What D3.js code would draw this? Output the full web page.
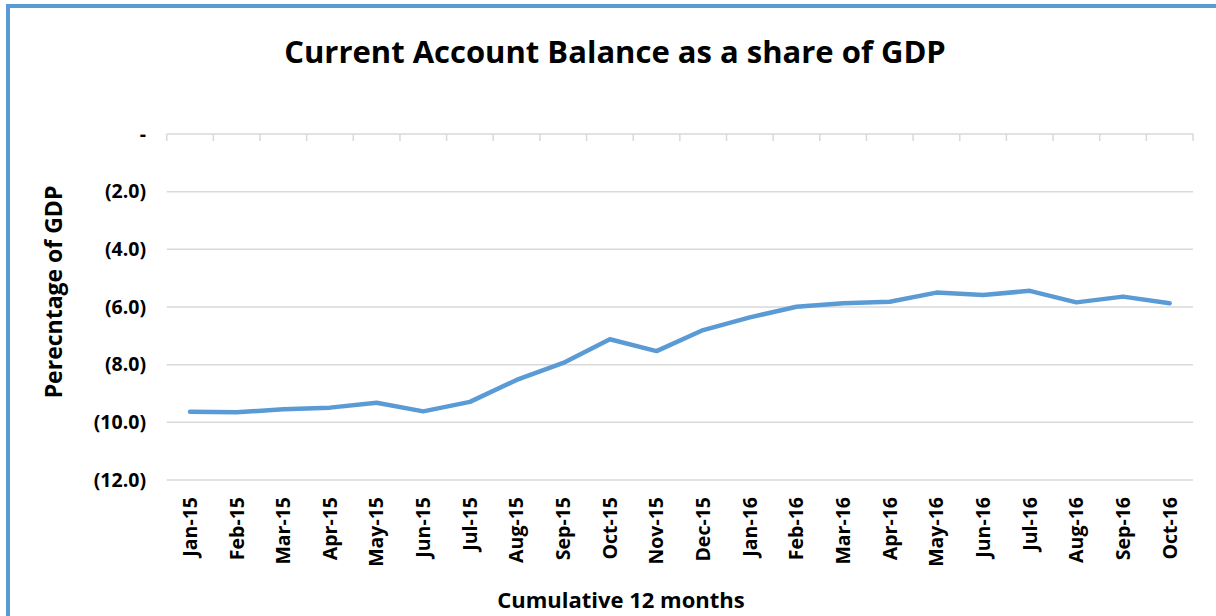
<!DOCTYPE html>
<html>
  <head>
    <meta charset="UTF-8">
    <title>Current Account Balance as a share of GDP</title>
    <script src="https://cdnjs.cloudflare.com/ajax/libs/d3/7.8.5/d3.min.js"></script>
    <style type="text/css">
      body {
        margin: 0px;
        overflow: hidden;
        background: #fff;
      }
      text {
        font-family: "Open Sans", "Liberation Sans", sans-serif;
        font-weight: bold;
        fill: #000;
      }
      .grid line {
        stroke: #d9d9d9;
        stroke-width: 1.5;
      }
      .series {
        fill: none;
        stroke: #5b9bd5;
        stroke-width: 4.5;
        stroke-linejoin: round;
        stroke-linecap: round;
      }
    </style>
  </head>
  <body>
    <div id="chart"></div>
    <script>
      const months = ["Jan-15", "Feb-15", "Mar-15", "Apr-15", "May-15", "Jun-15", "Jul-15", "Aug-15",
        "Sep-15", "Oct-15", "Nov-15", "Dec-15", "Jan-16", "Feb-16", "Mar-16", "Apr-16",
        "May-16", "Jun-16", "Jul-16", "Aug-16", "Sep-16", "Oct-16"];
      const balance = [-9.63, -9.65, -9.55, -9.49, -9.32, -9.62, -9.29, -8.53,
        -7.94, -7.12, -7.53, -6.80, -6.36, -5.99, -5.87, -5.82,
        -5.50, -5.58, -5.44, -5.84, -5.64, -5.87];
      const yTicks = [0, -2, -4, -6, -8, -10, -12];

      const width = 1216, height = 616;
      const margin = {top: 134, right: 23, bottom: 136, left: 166.7};

      const svg = d3.select("#chart").append("svg")
        .attr("width", width)
        .attr("height", height);

      // outer frame (cut at right and bottom like the screenshot)
      svg.append("rect")
        .attr("x", 8).attr("y", 6)
        .attr("width", width + 20).attr("height", height + 20)
        .attr("fill", "none")
        .attr("stroke", "#5b9bd5")
        .attr("stroke-width", 4);

      const x = d3.scaleBand()
        .domain(months)
        .range([margin.left, width - margin.right]);

      const y = d3.scaleLinear()
        .domain([0, -12])
        .range([margin.top, height - margin.bottom]);

      const fmt = v => v === 0 ? "-" : "(" + Math.abs(v).toFixed(1) + ")";

      // gridlines
      svg.append("g")
        .attr("class", "grid")
        .selectAll("line")
        .data(yTicks).enter()
        .append("line")
        .attr("x1", margin.left)
        .attr("x2", width - margin.right)
        .attr("y1", d => y(d))
        .attr("y2", d => y(d));

      // category ticks on the zero line
      const tickPos = months.map(m => x(m)).concat([x(months[months.length - 1]) + x.bandwidth()]);
      svg.append("g")
        .attr("class", "grid")
        .selectAll("line")
        .data(tickPos).enter()
        .append("line")
        .attr("x1", d => d).attr("x2", d => d)
        .attr("y1", y(0)).attr("y2", y(0) + 7);

      // y labels
      svg.append("g")
        .selectAll("text")
        .data(yTicks).enter()
        .append("text")
        .attr("x", 146)
        .attr("y", d => y(d))
        .attr("dy", "0.35em")
        .attr("text-anchor", "end")
        .style("font-size", "19.5px")
        .text(fmt);

      // x labels, rotated
      svg.append("g")
        .selectAll("text")
        .data(months).enter()
        .append("text")
        .attr("transform", d => `translate(${x(d) + x.bandwidth() / 2},497) rotate(-90)`)
        .attr("dy", "0.35em")
        .attr("text-anchor", "end")
        .style("font-size", "19.5px")
        .text(d => d);

      // series
      const line = d3.line()
        .x((d, i) => x(months[i]) + x.bandwidth() / 2)
        .y(d => y(d));

      svg.append("path")
        .datum(balance)
        .attr("class", "series")
        .attr("d", line);

      // titles
      svg.append("text")
        .attr("x", 615).attr("y", 63)
        .attr("text-anchor", "middle")
        .style("font-size", "31px")
        .text("Current Account Balance as a share of GDP");

      svg.append("text")
        .attr("transform", "translate(62,292) rotate(-90)")
        .attr("text-anchor", "middle")
        .style("font-size", "23px")
        .text("Perecntage of GDP");

      svg.append("text")
        .attr("x", 621).attr("y", 608)
        .attr("text-anchor", "middle")
        .style("font-size", "22px")
        .text("Cumulative 12 months");
    </script>
  </body>
</html>
